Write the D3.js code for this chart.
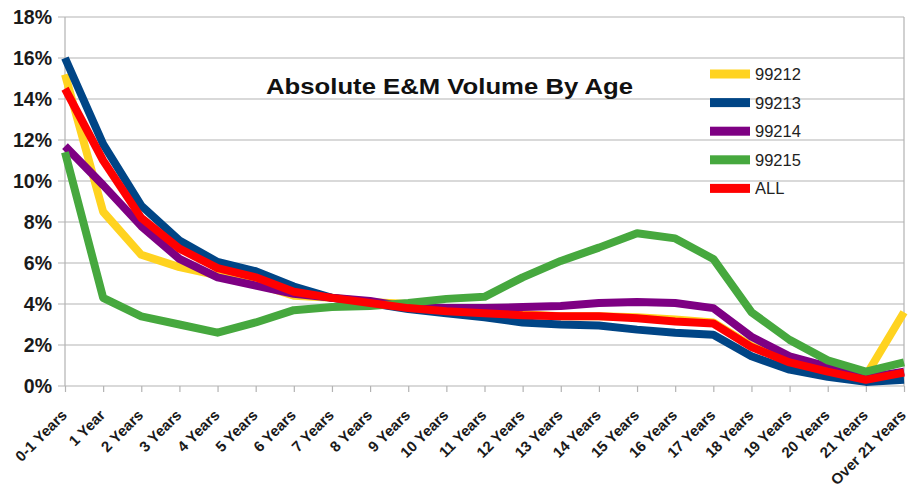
<!DOCTYPE html>
<html>
<head>
<meta charset="utf-8">
<script src="https://cdn.jsdelivr.net/npm/d3@7"></script>
<style>
  html, body { margin: 0; padding: 0; background: #fff; }
  svg { display: block; font-family: "Liberation Sans", Arial, sans-serif; }
</style>
</head>
<body>
<svg id="chart" width="908" height="494"></svg>
<script>
// Age buckets along the x axis
const categories = ["0-1 Years", "1 Year", "2 Years", "3 Years", "4 Years", "5 Years", "6 Years",
  "7 Years", "8 Years", "9 Years", "10 Years", "11 Years", "12 Years", "13 Years", "14 Years",
  "15 Years", "16 Years", "17 Years", "18 Years", "19 Years", "20 Years", "21 Years", "Over 21 Years"];

// Share of visits (%) per age bucket for each E&M code
const v99212 = [15.2, 8.5, 6.4, 5.8, 5.4, 5.0, 4.4, 4.3, 4.1, 4.0, 3.7, 3.6, 3.5, 3.4, 3.4, 3.35, 3.25, 3.1, 1.95, 1.2, 0.75, 0.5, 3.6];
const v99213 = [16.0, 11.8, 8.8, 7.1, 6.05, 5.6, 4.85, 4.3, 4.05, 3.75, 3.55, 3.35, 3.1, 3.0, 2.95, 2.75, 2.6, 2.5, 1.45, 0.8, 0.45, 0.2, 0.3];
const v99214 = [11.7, 9.8, 7.8, 6.2, 5.3, 4.9, 4.5, 4.3, 4.15, 3.85, 3.8, 3.8, 3.85, 3.9, 4.05, 4.1, 4.05, 3.8, 2.4, 1.45, 0.95, 0.4, 0.7];
const v99215 = [11.4, 4.3, 3.4, 3.0, 2.6, 3.1, 3.7, 3.85, 3.9, 4.05, 4.25, 4.35, 5.3, 6.1, 6.75, 7.45, 7.2, 6.2, 3.6, 2.25, 1.25, 0.7, 1.15];
const vAll   = [14.5, 11.0, 8.2, 6.7, 5.75, 5.3, 4.6, 4.3, 4.05, 3.8, 3.65, 3.55, 3.45, 3.4, 3.4, 3.3, 3.15, 3.05, 1.9, 1.15, 0.7, 0.3, 0.65];

const seriesNames = ["99212", "99213", "99214", "99215", "ALL"];
const seriesColors = ["#ffd320", "#004586", "#7e0083", "#46a83e", "#ff0000"];
const yTicks = [0, 2, 4, 6, 8, 10, 12, 14, 16, 18];

const series = [v99212, v99213, v99214, v99215, vAll].map((vals, i) => ({
  name: seriesNames[i], color: seriesColors[i], values: vals
}));

const svg = d3.select("#chart");
const margin = { left: 65, right: 4, top: 17, bottom: 108 };
const W = 908, H = 494;

const x = d3.scalePoint().domain(categories).range([margin.left, W - margin.right]);
const y = d3.scaleLinear().domain([0, 18]).range([H - margin.bottom, margin.top]);

// Horizontal gridlines
svg.append("g")
  .selectAll("line")
  .data(yTicks)
  .join("line")
  .attr("x1", margin.left - 7)
  .attr("x2", W - margin.right)
  .attr("y1", d => y(d))
  .attr("y2", d => y(d))
  .attr("stroke", "#b3b3b3")
  .attr("stroke-width", 1.2);

// Left and right frame lines
[margin.left, W - margin.right].forEach(px => {
  svg.append("line")
    .attr("x1", px).attr("x2", px)
    .attr("y1", y(18)).attr("y2", y(0))
    .attr("stroke", "#b3b3b3").attr("stroke-width", 1.2);
});

// Y axis labels
const yAxis = d3.axisLeft(y).tickValues(yTicks).tickFormat(d => d + "%").tickSize(0).tickPadding(13);
const yg = svg.append("g").attr("transform", `translate(${margin.left},0)`).call(yAxis);
yg.select(".domain").remove();
yg.selectAll("text")
  .attr("font-size", 19.5)
  .attr("font-weight", "bold")
  .attr("fill", "#1a1a1a")
  .attr("font-family", "Liberation Sans, Arial, sans-serif");

// X axis ticks and rotated labels
const xAxis = d3.axisBottom(x).tickSize(6).tickPadding(4);
const xg = svg.append("g").attr("transform", `translate(0,${y(0)})`).call(xAxis);
xg.select(".domain").remove();
xg.selectAll("line").attr("stroke", "#b3b3b3").attr("stroke-width", 1.2);
xg.selectAll("text")
  .attr("font-size", 15)
  .attr("font-weight", "bold")
  .attr("fill", "#1a1a1a")
  .attr("font-family", "Liberation Sans, Arial, sans-serif")
  .attr("text-anchor", "end")
  .attr("dy", null)
  .attr("transform", "translate(2.5,30) rotate(-45)")
  .attr("x", 0)
  .attr("y", 0);

// Series lines
const line = d3.line()
  .x((d, i) => x(categories[i]))
  .y(d => y(d))
  .curve(d3.curveLinear);

svg.append("g")
  .selectAll("path")
  .data(series)
  .join("path")
  .attr("d", d => line(d.values))
  .attr("fill", "none")
  .attr("stroke", d => d.color)
  .attr("stroke-width", 8)
  .attr("stroke-linejoin", "round")
  .attr("stroke-linecap", "butt");

// Title
svg.append("text")
  .attr("x", 266)
  .attr("y", 94)
  .attr("font-size", 22)
  .attr("font-weight", "bold")
  .attr("fill", "#111")
  .attr("textLength", 367)
  .attr("lengthAdjust", "spacingAndGlyphs")
  .text("Absolute E&M Volume By Age");

// Legend
const legend = svg.append("g").attr("transform", "translate(710,74)");
const rows = legend.selectAll("g")
  .data(series)
  .join("g")
  .attr("transform", (d, i) => `translate(0,${i * 28.6})`);
rows.append("rect")
  .attr("x", 0).attr("y", -4.5)
  .attr("width", 40).attr("height", 9)
  .attr("fill", d => d.color);
rows.append("text")
  .attr("x", 45)
  .attr("y", 0)
  .attr("dy", "0.36em")
  .attr("font-size", 16.5)
  .attr("fill", "#222")
  .text(d => d.name);
</script>
</body>
</html>
